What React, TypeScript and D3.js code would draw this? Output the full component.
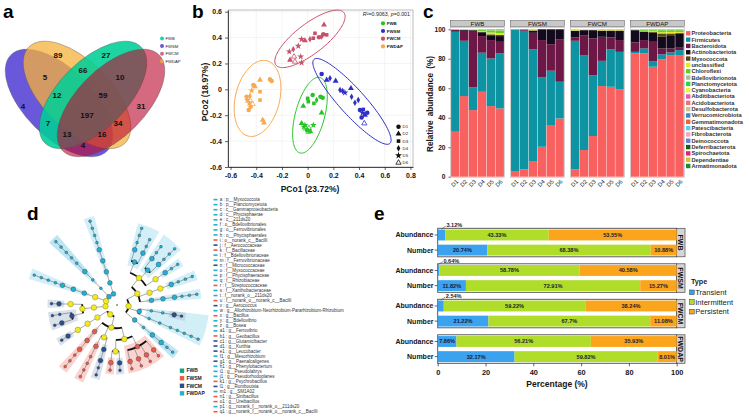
import { useEffect, useRef } from 'react';
import * as d3 from 'd3';

const W = 749;
const H = 418;
const FONT = '"Liberation Sans", Arial, Helvetica, sans-serif';

// ---------- a: shared OTUs ----------
const vennSets = ['FWB', 'FWSM', 'FWCM', 'FWDAP'];
const vennColors = ['#00ce96', '#503bd3', '#ba0d32', '#f7b23b'];
const vennAlpha = [0.88, 0.85, 0.62, 0.75];
// ellipse geometry, listed in drawing order
const vennDrawOrder = ['FWSM', 'FWDAP', 'FWB', 'FWCM'];
const vennCx = [33.75, 45, 55, 66.25];
const vennCy = [40.6, 35.6, 35.6, 40.6];
const vennTilt = [45, 45, -45, -45];
const vennCounts = [89, 27, 66, 5, 10, 12, 59, 4, 31, 197, 7, 34, 13, 16, 4];
const vennLabelX = [33.1, 63.1, 48.75, 25, 71.9, 32.5, 61.25, 11.25, 85, 51.25, 26.9, 70.6, 38.75, 60.6, 48.75];
const vennLabelY = [10.6, 10.6, 20, 24.4, 24.4, 35.6, 35.6, 42.5, 42.5, 48.1, 53.1, 53.1, 60, 60, 66.9];

// ---------- b: PCoA ----------
const pcoaGroups = ['FWB', 'FWSM', 'FWCM', 'FWDAP'];
const pcoaColors = ['#26c426', '#2f2fc8', '#c8506a', '#f7a94f'];
const pcoaDays = ['D1', 'D2', 'D3', 'D4', 'D5', 'D6'];
// [PCo1, PCo2, day index]
const fwbScores = [
  [0.039, -0.044, 0], [0.117, -0.065, 0], [0.1, -0.058, 0], [0.07, -0.083, 3], [0.0, -0.07, 2], [0.005, -0.095, 2],
  [0.049, -0.108, 2], [-0.034, -0.129, 1], [0.109, -0.181, 1], [-0.047, -0.263, 1], [-0.021, -0.276, 4], [0.044, -0.276, 4],
  [-0.03, -0.29, 4], [-0.013, -0.302, 5], [0.01, -0.3, 5], [-0.005, -0.315, 0], [0.005, -0.328, 5], [0.02, -0.325, 1],
];
const fwsmScores = [
  [0.109, 0.119, 0], [0.148, 0.072, 1], [0.174, 0.085, 3], [0.218, 0.065, 1], [0.252, -0.005, 3], [0.272, -0.013, 3],
  [0.29, -0.026, 4], [0.337, 0.008, 1], [0.342, -0.057, 3], [0.394, -0.083, 3], [0.368, -0.103, 3], [0.407, -0.16, 0],
  [0.433, -0.155, 2], [0.428, -0.181, 4], [0.446, -0.199, 1], [0.464, -0.181, 0], [0.42, -0.217, 0], [0.441, -0.263, 5],
];
const fwcmScores = [
  [0.127, 0.498, 1], [0.148, 0.421, 2], [0.057, 0.433, 2], [0.044, 0.395, 2], [0.122, 0.426, 0], [0.109, 0.408, 3],
  [0.088, 0.402, 0], [0.018, 0.387, 3], [-0.021, 0.377, 1], [-0.047, 0.387, 4], [-0.073, 0.335, 4], [-0.112, 0.31, 3],
  [-0.143, 0.292, 4], [-0.054, 0.253, 4], [-0.106, 0.253, 5], [-0.137, 0.227, 1], [-0.099, 0.214, 5], [-0.047, 0.206, 4],
];
const fwdapScores = [
  [-0.371, 0.072, 1], [-0.293, 0.077, 0], [-0.28, 0.065, 0], [-0.423, 0.034, 0], [-0.41, 0.021, 1], [-0.371, -0.018, 2],
  [-0.436, -0.01, 4], [-0.475, -0.057, 0], [-0.449, -0.052, 3], [-0.47, -0.083, 4], [-0.449, -0.083, 5], [-0.454, -0.108, 4],
  [-0.428, -0.114, 5], [-0.444, -0.134, 0], [-0.459, -0.16, 0], [-0.371, -0.083, 2], [-0.35, -0.237, 1], [-0.34, -0.258, 1],
];
// confidence ellipses: [centre x, centre y, semi-major, semi-minor, angle in degrees]
const pcoaEllipses = [
  [0.018, -0.2, 0.302, 0.114, 75],
  [0.345, -0.093, 0.439, 0.1, -47.7],
  [0.018, 0.39, 0.333, 0.115, 37.4],
  [-0.39, -0.07, 0.3, 0.172, 76],
];

// ---------- c: phylum composition ----------
const compFacets = ['FWB', 'FWSM', 'FWCM', 'FWDAP'];
const compDays = ['D1', 'D2', 'D3', 'D4', 'D5', 'D6'];
const phylumNames = [
  'Proteobacteria', 'Firmicutes', 'Bacteroidota', 'Actinobacteriota', 'Myxococcota', 'unclassified', 'Chloroflexi',
  'Bdellovibrionota', 'Planctomycetota', 'Cyanobacteria', 'Abditibacteriota', 'Acidobacteriota', 'Desulfobacterota',
  'Verrucomicrobiota', 'Gemmatimonadota', 'Patescibacteria', 'Fibrobacterota', 'Deinococcota', 'Deferribacterota',
  'Spirochaetota', 'Dependentiae', 'Armatimonadota',
];
const phylumColors = [
  '#f8615f', '#0e93a3', '#6d1747', '#130b1d', '#57460f', '#e8e81e', '#63d11c', '#a7bf9f', '#2bd646', '#eff23c',
  '#e05ab1', '#f47070', '#cbc48f', '#3a86c8', '#f26234', '#5fcbef', '#f3a8b4', '#6b7fd3', '#105d1c', '#ea1e6e',
  '#d6c41c', '#188b36',
];
const proteobacteria = [30.5, 54.7, 45.2, 57.6, 47.9, 46.3, 3.4, 5.0, 10.2, 20.3, 34.6, 39.5, 5.0, 18.1, 27.6, 61.5, 61.0, 59.4, 83.6, 83.6, 74.6, 79.5, 82.5, 82.5];
const firmicutes = [67.8, 37.5, 15.4, 26.5, 32.3, 37.3, 96.3, 94.0, 76.1, 47.0, 37.3, 24.9, 87.2, 64.4, 41.3, 17.1, 25.3, 25.3, 1.1, 3.4, 3.8, 3.5, 1.8, 3.4];
const bacteroidota = [1.2, 6.8, 37.7, 11.3, 12.5, 7.9, 0.1, 0.7, 11.3, 25.4, 18.0, 28.9, 2.3, 13.5, 24.9, 16.3, 8.2, 8.0, 6.4, 5.7, 13.1, 4.0, 2.7, 1.6];
const actinobacteriota = [0.2, 0.6, 1.0, 2.6, 3.3, 3.9, 0.1, 0.2, 1.6, 7.3, 10.1, 6.7, 4.5, 3.4, 5.6, 4.1, 4.5, 6.3, 8.3, 5.6, 6.1, 7.9, 9.0, 9.7];
const myxococcota = [0, 0, 0.2, 0.4, 0.6, 0.8, 0, 0, 0, 0, 0, 0, 0.1, 0.1, 0.1, 0.2, 0.2, 0.2, 0.1, 0.3, 0.8, 2.3, 1.2, 0.4];
const unclassified = [0.2, 0.2, 0.3, 0.5, 1.2, 1.2, 0.1, 0.1, 0.4, 0, 0, 0, 0.6, 0.3, 0.3, 0.4, 0.4, 0.4, 0.2, 0.4, 0.6, 0.8, 1.0, 0.6];
const chloroflexi = [0, 0.1, 0.1, 0.7, 1.5, 1.8, 0, 0, 0.2, 0, 0, 0, 0.2, 0.1, 0.1, 0.2, 0.2, 0.2, 0.2, 0.6, 0.6, 1.4, 1.2, 1.2];
const bdellovibrionota = [0, 0, 0, 0.2, 0.3, 0.3, 0, 0, 0.1, 0, 0, 0, 0.1, 0.1, 0.1, 0.1, 0.1, 0.1, 0, 0.2, 0.2, 0.3, 0.3, 0.3];
const planctomycetota = [0.1, 0.1, 0.1, 0.2, 0.4, 0.5, 0, 0, 0.1, 0, 0, 0, 0, 0, 0, 0.1, 0.1, 0.1, 0.1, 0.2, 0.2, 0.3, 0.3, 0.3];
const phylumValues: Record<string, number[]> = {
  Proteobacteria: proteobacteria,
  Firmicutes: firmicutes,
  Bacteroidota: bacteroidota,
  Actinobacteriota: actinobacteriota,
  Myxococcota: myxococcota,
  unclassified: unclassified,
  Chloroflexi: chloroflexi,
  Bdellovibrionota: bdellovibrionota,
  Planctomycetota: planctomycetota,
};

// ---------- d: LEfSe cladogram ----------
const cladeGroups = ['FWB', 'FWSM', 'FWCM', 'FWDAP'];
const cladeColors = ['#179f87', '#ee5a47', '#2d4e88', '#21b1d2'];
const cladeShades = ['#9fe0d2', '#f7a69c', '#b4c3d8', '#a6def0'];
// lineage and number of sub-genus levels hanging below it
const cladeLineages: [string, number][] = [
  ['p__Proteobacteria;c__Alphaproteobacteria;o__Rhizobiales;f__Rhizobiaceae;g__Allorhizobium-Neorhizobium-Pararhizobium-Rhizobium', 3],
  ['p__Proteobacteria;c__Alphaproteobacteria;o__Rhizobiales;f__Rhizobiaceae;g__Mesorhizobium', 2],
  ['p__Proteobacteria;c__Alphaproteobacteria;o__Rhizobiales;f__Xanthobacteraceae;g__Pseudolabrys', 2],
  ['p__Proteobacteria;c__Alphaproteobacteria;o__Rhizobiales;f__Xanthobacteraceae;g__Pseudorhodoplanes', 3],
  ['p__Proteobacteria;c__Alphaproteobacteria;o__Rhizobiales;f__Beijerinckiaceae;g__Bosea', 2],
  ['p__Proteobacteria;c__Alphaproteobacteria;o__Caulobacterales;f__Caulobacteraceae;g__Phenylobacterium', 3],
  ['p__Proteobacteria;c__Alphaproteobacteria;o__Ferrovibrionales;f__Ferrovibrionaceae;g__Ferrovibrio', 3],
  ['p__Proteobacteria;c__Gammaproteobacteria;o__Burkholderiales;f__Alcaligenaceae;g__Paenalcaligenes', 1],
  ['p__Proteobacteria;c__Gammaproteobacteria;o__Pseudomonadales;f__Pseudomonadaceae;g__Pseudomonas', 4],
  ['p__Proteobacteria;c__211ds20;o__211ds20;f__norank_o__211ds20;g__norank_f__norank_o__211ds20', 2],
  ['p__Firmicutes;c__Bacilli;o__Bacillales;f__Bacillaceae;g__Bacillus', 1],
  ['p__Firmicutes;c__Bacilli;o__Bacillales;f__Bacillaceae;g__Geobacillus', 1],
  ['p__Firmicutes;c__Bacilli;o__Bacillales;f__Bacillaceae;g__Psychrobacillus', 1],
  ['p__Firmicutes;c__Bacilli;o__Bacillales;f__Bacillaceae;g__Sinibacillus', 1],
  ['p__Firmicutes;c__Bacilli;o__Bacillales;f__Planococcaceae;g__Kurthia', 1],
  ['p__Firmicutes;c__Bacilli;o__Bacillales;f__Planococcaceae;g__Ureibacillus', 1],
  ['p__Firmicutes;c__Bacilli;o__Lactobacillales;f__Aerococcaceae;g__Aerococcus', 2],
  ['p__Firmicutes;c__Bacilli;o__Lactobacillales;f__Streptococcaceae;g__Lactococcus', 3],
  ['p__Firmicutes;c__Bacilli;o__norank_c__Bacilli;f__norank_o__norank_c__Bacilli;g__norank_f__norank_o__norank_c__Bacilli', 3],
  ['p__Firmicutes;c__Clostridia;o__Peptostreptococcales-Tissierellales;f__Peptostreptococcaceae;g__Romboutsia', 1],
  ['p__Actinobacteriota;c__Actinobacteria;o__Micrococcales;f__Micrococcaceae;g__Glutamicibacter', 1],
  ['p__Actinobacteriota;c__Actinobacteria;o__Micrococcales;f__Micrococcaceae;g__Arthrobacter', 1],
  ['p__Actinobacteriota;c__Actinobacteria;o__Micrococcales;f__Microbacteriaceae;g__Leucobacter', 1],
  ['p__Bdellovibrionota;c__Bdellovibrionia;o__Bdellovibrionales;f__Bdellovibrionaceae;g__Bdellovibrio', 4],
  ['p__Myxococcota;c__Myxococcia;o__Myxococcales;f__Myxococcaceae;g__Corallococcus', 4],
  ['p__Planctomycetota;c__Phycisphaerae;o__Phycisphaerales;f__Phycisphaeraceae;g__SM1A02', 4],
];
const markerIds = [
  'a', 'b', 'c', 'd', 'e', 'f', 'g', 'h', 'i', 'j', 'k', 'l', 'm', 'n', 'o', 'p', 'q', 'r', 's', 't', 'u', 'v', 'w', 'x', 'y', 'z',
  'a1', 'b1', 'c1', 'd1', 'e1', 'f1', 'g1', 'h1', 'i1', 'j1', 'k1', 'l1', 'm1', 'n1', 'o1', 'p1', 'q1',
];
const markerTaxa = [
  'p__Myxococcota', 'p__Planctomycetota', 'c__Gammaproteobacteria', 'c__Phycisphaerae', 'c__211ds20',
  'o__Bdellovibrionales', 'o__Ferrovibrionales', 'o__Phycisphaerales', 'o__norank_c__Bacilli', 'f__Aerococcaceae',
  'f__Bacillaceae', 'f__Bdellovibrionaceae', 'f__Ferrovibrionaceae', 'f__Micrococcaceae', 'f__Myxococcaceae',
  'f__Phycisphaeraceae', 'f__Rhizobiaceae', 'f__Streptococcaceae', 'f__Xanthobacteraceae', 'f__norank_o__211ds20',
  'f__norank_o__norank_c__Bacilli', 'g__Aerococcus', 'g__Allorhizobium-Neorhizobium-Pararhizobium-Rhizobium',
  'g__Bacillus', 'g__Bdellovibrio', 'g__Bosea', 'g__Ferrovibrio', 'g__Geobacillus', 'g__Glutamicibacter', 'g__Kurthia',
  'g__Leucobacter', 'g__Mesorhizobium', 'g__Paenalcaligenes', 'g__Phenylobacterium', 'g__Pseudolabrys',
  'g__Pseudorhodoplanes', 'g__Psychrobacillus', 'g__Romboutsia', 'g__SM1A02', 'g__Sinibacillus', 'g__Ureibacillus',
  'g__norank_f__norank_o__211ds20', 'g__norank_f__norank_o__norank_c__Bacilli',
];
const markerGroups = [
  'FWDAP', 'FWDAP', 'FWDAP', 'FWDAP', 'FWDAP', 'FWDAP', 'FWDAP', 'FWDAP', 'FWSM', 'FWCM',
  'FWSM', 'FWDAP', 'FWDAP', 'FWCM', 'FWDAP', 'FWDAP', 'FWDAP', 'FWSM', 'FWDAP', 'FWDAP',
  'FWSM', 'FWCM', 'FWDAP', 'FWSM', 'FWDAP', 'FWDAP', 'FWDAP', 'FWSM', 'FWCM', 'FWCM',
  'FWCM', 'FWDAP', 'FWCM', 'FWDAP', 'FWDAP', 'FWDAP', 'FWSM', 'FWCM', 'FWDAP', 'FWSM',
  'FWSM', 'FWDAP', 'FWSM',
];

// ---------- e: transient / intermittent / persistent taxa ----------
const persistFacets = ['FWB', 'FWSM', 'FWCM', 'FWDAP'];
const persistMetrics = ['Abundance', 'Number'];
const persistTypes = ['Transient', 'Intermittent', 'Persistent'];
const persistColors = ['#3aa2ee', '#b0dc2a', '#fba51c'];
// per facet: Abundance, Number
const transientPct = [3.12, 20.74, 0.64, 11.82, 2.54, 21.22, 7.86, 32.17];
const intermittentPct = [43.33, 68.38, 58.78, 72.91, 59.22, 67.7, 56.21, 59.82];
const persistentPct = [53.55, 10.88, 40.58, 15.27, 38.24, 11.08, 35.93, 8.01];

type Sel = d3.Selection<SVGGElement, unknown, null, undefined>;

function styleAxis(ax: Sel, size: number) {
  ax.attr('font-family', FONT).attr('font-size', size).attr('font-weight', 'bold');
  ax.selectAll('text').attr('fill', '#151515');
  ax.selectAll('line').attr('stroke', '#222').attr('stroke-width', 0.7);
  ax.select('.domain').attr('stroke', '#222').attr('stroke-width', 0.8);
}

function drawVenn(g: Sel) {
  const vx = d3.scaleLinear().domain([0, 100]).range([5, 165]);
  const vy = d3.scaleLinear().domain([0, 75]).range([38, 158]);
  const k = vx(1) - vx(0);
  vennDrawOrder.forEach((name, j) => {
    const i = vennSets.indexOf(name);
    g.append('ellipse')
      .attr('rx', 42.5 * k)
      .attr('ry', 21.25 * k)
      .attr('transform', `translate(${vx(vennCx[j])},${vy(vennCy[j])}) rotate(${vennTilt[j]})`)
      .attr('fill', vennColors[i])
      .attr('fill-opacity', vennAlpha[i])
      .attr('stroke', '#555')
      .attr('stroke-width', 0.4);
  });
  g.selectAll('text.cnt')
    .data(vennCounts)
    .join('text')
    .attr('x', (_, i) => vx(vennLabelX[i]))
    .attr('y', (_, i) => vy(vennLabelY[i]))
    .attr('dy', '0.35em')
    .attr('text-anchor', 'middle')
    .attr('font-size', 8)
    .attr('font-weight', 'bold')
    .attr('fill', '#111')
    .text(d => d);

  const lg = g.append('g').attr('transform', 'translate(162,38.5)');
  vennSets.forEach((s, i) => {
    lg.append('circle').attr('cx', 0).attr('cy', i * 7.6).attr('r', 2)
      .attr('fill', vennColors[i]).attr('fill-opacity', vennAlpha[i]);
    lg.append('text').attr('x', 3.5).attr('y', i * 7.6).attr('dy', '0.35em')
      .attr('font-size', 4.2).attr('fill', '#222').text(s);
  });
}

function drawPcoa(g: Sel) {
  const x = d3.scaleLinear().domain([-0.62, 0.82]).range([228, 413]);
  const y = d3.scaleLinear().domain([-0.6, 0.613]).range([167, 10]);
  const xt = d3.range(-6, 9, 2).map(v => v / 10);
  const yt = d3.range(-6, 7, 2).map(v => v / 10);
  const fmt = (v: d3.NumberValue) => String(Math.round(+v * 10) / 10);

  g.append('g').selectAll('line').data(xt).join('line')
    .attr('x1', d => x(d)).attr('x2', d => x(d)).attr('y1', 10).attr('y2', 167)
    .attr('stroke', '#ececec').attr('stroke-width', 0.6);
  g.append('g').selectAll('line').data(yt).join('line')
    .attr('y1', d => y(d)).attr('y2', d => y(d)).attr('x1', 228).attr('x2', 413)
    .attr('stroke', '#ececec').attr('stroke-width', 0.6);
  g.append('rect').attr('x', 228).attr('y', 10).attr('width', 185).attr('height', 157)
    .attr('fill', 'none').attr('stroke', '#a0a0a0').attr('stroke-width', 0.7);

  const ax = g.append('g').attr('transform', 'translate(0,167)')
    .call(d3.axisBottom(x).tickValues(xt).tickFormat(fmt).tickSize(3).tickSizeOuter(0));
  styleAxis(ax, 7);
  const ay = g.append('g').attr('transform', 'translate(228,0)')
    .call(d3.axisLeft(y).tickValues(yt).tickFormat(fmt).tickSize(3).tickSizeOuter(0));
  styleAxis(ay, 7);

  g.append('text').attr('x', 310).attr('y', 192).attr('text-anchor', 'middle')
    .attr('font-size', 8.5).attr('font-weight', 'bold').attr('fill', '#151515').text('PCo1 (23.72%)');
  g.append('text').attr('transform', 'translate(208,92) rotate(-90)').attr('text-anchor', 'middle')
    .attr('font-size', 8.5).attr('font-weight', 'bold').attr('fill', '#151515').text('PCo2 (18.97%)');

  const line = d3.line<number[]>().x(d => x(d[0])).y(d => y(d[1])).curve(d3.curveLinearClosed);
  const t = d3.range(0, 2 * Math.PI, Math.PI / 60);
  pcoaEllipses.forEach((e, gi) => {
    const [cx, cy, a, b, deg] = e;
    const phi = (deg * Math.PI) / 180;
    const pts = t.map(s => [
      cx + a * Math.cos(s) * Math.cos(phi) - b * Math.sin(s) * Math.sin(phi),
      cy + a * Math.cos(s) * Math.sin(phi) + b * Math.sin(s) * Math.cos(phi),
    ]);
    g.append('path').attr('d', line(pts)).attr('fill', 'none')
      .attr('stroke', pcoaColors[gi]).attr('stroke-width', 1);
  });

  const shapes = [d3.symbolCircle, d3.symbolTriangle, d3.symbolSquare, d3.symbolDiamond, d3.symbolStar, d3.symbolTriangle];
  const sizes = [16, 15, 13, 12, 15, 12];
  const sym = (di: number) => d3.symbol().type(shapes[di]).size(sizes[di])();
  [fwbScores, fwsmScores, fwcmScores, fwdapScores].forEach((pts, gi) => {
    g.append('g').selectAll('path').data(pts).join('path')
      .attr('transform', d => `translate(${x(d[0])},${y(d[1])})`)
      .attr('d', d => sym(d[2]))
      .attr('fill', d => (d[2] === 5 ? 'none' : pcoaColors[gi]))
      .attr('stroke', d => (d[2] === 5 ? pcoaColors[gi] : 'none'))
      .attr('stroke-width', 0.8);
  });

  const st = g.append('text').attr('x', 410).attr('y', 16).attr('text-anchor', 'end')
    .attr('font-size', 5.3).attr('fill', '#222');
  st.append('tspan').attr('font-style', 'italic').text('R');
  st.append('tspan').text('\u00b2=0.9063, ');
  st.append('tspan').attr('font-style', 'italic').text('p');
  st.append('tspan').text('=0.001');

  const lg = g.append('g').attr('transform', 'translate(383,23.3)');
  pcoaGroups.forEach((s, i) => {
    lg.append('circle').attr('cx', 0).attr('cy', i * 7.7).attr('r', 2.1).attr('fill', pcoaColors[i]);
    lg.append('text').attr('x', 3.8).attr('y', i * 7.7).attr('dy', '0.35em')
      .attr('font-size', 4.4).attr('font-weight', 'bold').attr('fill', '#222').text(s);
  });
  const sg = g.append('g').attr('transform', 'translate(398.5,126.7)');
  pcoaDays.forEach((d, i) => {
    sg.append('path').attr('transform', `translate(0,${i * 7.2})`).attr('d', sym(i))
      .attr('fill', i === 5 ? 'none' : '#111').attr('stroke', i === 5 ? '#111' : 'none').attr('stroke-width', 0.8);
    sg.append('text').attr('x', 4).attr('y', i * 7.2).attr('dy', '0.35em')
      .attr('font-size', 4.4).attr('fill', '#222').text(d);
  });
}

function drawComposition(g: Sel) {
  const rows = compFacets.flatMap((f, fi) =>
    compDays.map((d, di) => {
      const row: Record<string, any> = { facet: f, day: d };
      phylumNames.forEach(p => {
        row[p] = phylumValues[p] ? phylumValues[p][fi * 6 + di] : 0;
      });
      return row;
    }),
  );
  const series = d3.stack<Record<string, any>>().keys(phylumNames)(rows);
  const fx = d3.scaleBand().domain(compFacets).range([450.5, 684.3]).paddingInner(0.099);
  const bx = d3.scaleBand().domain(compDays).range([0.6, fx.bandwidth() - 0.6]).paddingInner(0.05);
  const y = d3.scaleLinear().domain([0, 100]).range([176.7, 29.3]);
  const color = d3.scaleOrdinal<string>().domain(phylumNames).range(phylumColors);

  compFacets.forEach(f => {
    g.append('rect').attr('x', fx(f)!).attr('y', 27.6).attr('width', fx.bandwidth()).attr('height', 149.6)
      .attr('fill', '#fff').attr('stroke', '#b5b5b5').attr('stroke-width', 0.6);
    g.append('rect').attr('x', fx(f)!).attr('y', 20.6).attr('width', fx.bandwidth()).attr('height', 5.8)
      .attr('fill', '#c8c8c8').attr('stroke', '#555').attr('stroke-width', 0.5);
    g.append('text').attr('x', fx(f)! + fx.bandwidth() / 2).attr('y', 23.5).attr('dy', '0.35em')
      .attr('text-anchor', 'middle').attr('font-size', 6.2).attr('fill', '#111').text(f);
  });

  g.append('g').selectAll('g').data(series).join('g')
    .attr('fill', d => color(d.key))
    .selectAll('rect').data(d => d).join('rect')
    .attr('x', d => fx(d.data.facet)! + bx(d.data.day)!)
    .attr('y', d => y(d[1]))
    .attr('width', bx.bandwidth())
    .attr('height', d => Math.max(0, y(d[0]) - y(d[1])));

  compFacets.forEach(f => {
    g.append('g').selectAll('text').data(compDays).join('text')
      .attr('transform', d => `translate(${fx(f)! + bx(d)! + bx.bandwidth() / 2 + 2},${180.5}) rotate(-45)`)
      .attr('text-anchor', 'end').attr('dy', '0.35em')
      .attr('font-size', 5.8).attr('fill', '#222').text(d => d);
  });

  const ay = g.append('g').attr('transform', 'translate(450.5,0)')
    .call(d3.axisLeft(y).tickValues([0, 20, 40, 60, 80, 100]).tickSize(2).tickSizeOuter(0));
  styleAxis(ay, 6.6);
  ay.select('.domain').remove();
  g.append('text').attr('transform', 'translate(433,104) rotate(-90)').attr('text-anchor', 'middle')
    .attr('font-size', 8.2).attr('font-weight', 'bold').attr('fill', '#151515')
    .attr('word-spacing', 2).text('Relative abundance (%)');

  const lg = g.append('g').attr('transform', 'translate(686,33.3)');
  phylumNames.forEach((p, i) => {
    lg.append('rect').attr('x', 0).attr('y', i * 6.32 - 2.2).attr('width', 4.4).attr('height', 4.4)
      .attr('fill', color(p));
    lg.append('text').attr('x', 5.4).attr('y', i * 6.32).attr('dy', '0.35em')
      .attr('font-size', 5.7).attr('font-weight', 'bold').attr('fill', '#333').text(p);
  });
}

type TaxNode = { name: string; children: TaxNode[] };

function buildTaxTree(): TaxNode {
  const root: TaxNode = { name: 'root', children: [] };
  cladeLineages.forEach(([path, tail]) => {
    let cur = root;
    path.split(';').forEach(name => {
      let next = cur.children.find(c => c.name === name);
      if (!next) {
        next = { name, children: [] };
        cur.children.push(next);
      }
      cur = next;
    });
    for (let k = 1; k <= tail; k++) {
      const next: TaxNode = { name: `${cur.name}|${k}`, children: [] };
      cur.children.push(next);
      cur = next;
    }
  });
  return root;
}

function drawCladogram(g: Sel) {
  const cx = 117;
  const cy = 305;
  const rot = 0.22;
  const root = d3.hierarchy(buildTaxTree(), d => (d.children.length ? d.children : null));
  d3.tree<TaxNode>().size([2 * Math.PI * 0.93, 1])
    .separation((a, b) => (a.parent === b.parent ? 1 : 2) / a.depth)(root);
  const r = d3.scaleLinear().domain([0, 5, 9]).range([0, 58, 88]);
  const ang = (n: d3.HierarchyNode<TaxNode>) => (n as any).x + rot;
  const pos = (a: number, rad: number) => [cx + rad * Math.sin(a), cy - rad * Math.cos(a)];

  const markerOf = (n: d3.HierarchyNode<TaxNode>) => markerTaxa.indexOf(n.data.name);
  const groupOf = (n: d3.HierarchyNode<TaxNode>) => {
    for (const a of n.ancestors()) {
      const m = markerOf(a);
      if (m >= 0) return cladeGroups.indexOf(markerGroups[m]);
    }
    return -1;
  };
  const nodes = root.descendants();

  // shaded clades
  const arcGen = d3.arc<any>();
  nodes.filter(n => markerOf(n) >= 0 && !(n.parent && markerOf(n.parent) >= 0 && groupOf(n.parent) === groupOf(n)))
    .forEach(n => {
      const ds = n.descendants();
      const a0 = d3.min(ds, ang)! - 0.06;
      const a1 = d3.max(ds, ang)! + 0.06;
      const rOut = r(d3.max(ds, d => d.depth)!) + 4;
      g.append('path')
        .attr('transform', `translate(${cx},${cy})`)
        .attr('d', arcGen({ innerRadius: Math.max(r(n.depth) - 5, 30), outerRadius: rOut, startAngle: a0, endAngle: a1 }))
        .attr('fill', cladeShades[groupOf(n)])
        .attr('fill-opacity', 0.5);
    });

  // radial branches
  nodes.filter(n => n.depth > 1).forEach(n => {
    const [x0, y0] = pos(ang(n), r(n.parent!.depth));
    const [x1, y1] = pos(ang(n), r(n.depth));
    g.append('line').attr('x1', x0).attr('y1', y0).attr('x2', x1).attr('y2', y1)
      .attr('stroke', '#6f6f6f').attr('stroke-width', 0.6);
  });
  // sibling arcs
  nodes.filter(n => n.depth > 0 && n.children && n.children.length > 1).forEach(n => {
    const a0 = d3.min(n.children!, ang)!;
    const a1 = d3.max(n.children!, ang)!;
    const rad = r(n.depth);
    const p = d3.path();
    p.moveTo(cx + rad * Math.sin(a0), cy - rad * Math.cos(a0));
    p.arc(cx, cy, rad, a0 - Math.PI / 2, a1 - Math.PI / 2);
    g.append('path').attr('d', p.toString()).attr('fill', 'none')
      .attr('stroke', '#111').attr('stroke-width', 1.8);
  });

  g.append('circle').attr('cx', cx).attr('cy', cy).attr('r', 0.8).attr('fill', '#333');
  nodes.filter(n => n.depth > 0).forEach(n => {
    const gi = groupOf(n);
    const own = markerOf(n) >= 0;
    const [px, py] = pos(ang(n), r(n.depth));
    const rad = own ? 2.4 : gi >= 0 ? 1.4 : 2.8;
    g.append('circle').attr('cx', px).attr('cy', py).attr('r', rad)
      .attr('fill', gi >= 0 ? cladeColors[gi] : '#f2ea1d')
      .attr('stroke', gi >= 0 ? '#2b3a4a' : '#6b6b40')
      .attr('stroke-width', 0.4);
  });

  const lg = g.append('g').attr('transform', 'translate(182,370.7)');
  cladeGroups.forEach((s, i) => {
    lg.append('rect').attr('x', -2.2).attr('y', i * 7.55 - 2.2).attr('width', 4.4).attr('height', 4.4)
      .attr('fill', cladeColors[i]);
    lg.append('text').attr('x', 4.4).attr('y', i * 7.55).attr('dy', '0.35em')
      .attr('font-size', 5).attr('font-weight', 'bold').attr('fill', '#222').text(s);
  });

  const ml = g.append('g').attr('transform', 'translate(213.5,199.6)');
  markerIds.forEach((id, i) => {
    const gi = cladeGroups.indexOf(markerGroups[i]);
    ml.append('rect').attr('x', 0).attr('y', i * 5.05 - 0.8).attr('width', 4).attr('height', 1.6)
      .attr('fill', cladeColors[gi]);
    ml.append('text').attr('x', 6.3).attr('y', i * 5.05).attr('dy', '0.35em')
      .attr('font-size', 4.5).attr('fill', '#333').text(`${id} : ${markerTaxa[i]}`);
  });
}

function drawPersistence(g: Sel) {
  const rows = persistFacets.flatMap((f, fi) =>
    persistMetrics.map((m, mi) => ({
      facet: f,
      metric: m,
      Transient: transientPct[fi * 2 + mi],
      Intermittent: intermittentPct[fi * 2 + mi],
      Persistent: persistentPct[fi * 2 + mi],
    })),
  );
  const series = d3.stack<any>().keys(persistTypes)(rows);
  const x = d3.scaleLinear().domain([0, 100]).range([437.7, 676.7]);
  const fy = d3.scaleBand().domain(persistFacets).range([228.3, 363.3]).paddingInner(0.197);
  const by = d3.scaleBand().domain(persistMetrics).range([0.5, fy.bandwidth() - 0.5]).paddingInner(0.28).paddingOuter(0.05);
  const color = d3.scaleOrdinal<string>().domain(persistTypes).range(persistColors);

  persistFacets.forEach(f => {
    const top = fy(f)!;
    g.append('rect').attr('x', 437.7).attr('y', top).attr('width', 239).attr('height', fy.bandwidth())
      .attr('fill', '#fff').attr('stroke', '#4a4a4a').attr('stroke-width', 0.9);
    g.append('rect').attr('x', 676.7).attr('y', top).attr('width', 8.3).attr('height', fy.bandwidth())
      .attr('fill', '#d6d6d6').attr('stroke', '#4a4a4a').attr('stroke-width', 0.7);
    g.append('text').attr('transform', `translate(680.85,${top + fy.bandwidth() / 2}) rotate(90)`)
      .attr('text-anchor', 'middle').attr('dy', '0.35em')
      .attr('font-size', 7).attr('font-weight', 'bold').attr('fill', '#111').text(f);
    persistMetrics.forEach(m => {
      const yc = top + by(m)! + by.bandwidth() / 2;
      g.append('line').attr('x1', 434.7).attr('x2', 437.7).attr('y1', yc).attr('y2', yc)
        .attr('stroke', '#222').attr('stroke-width', 0.7);
      g.append('text').attr('x', 433.5).attr('y', yc).attr('dy', '0.35em').attr('text-anchor', 'end')
        .attr('font-size', 7).attr('font-weight', 'bold').attr('fill', '#151515').text(m);
    });
  });

  const segs = g.append('g');
  series.forEach(s => {
    s.forEach(d => {
      const top = fy(d.data.facet)!;
      const y0 = top + by(d.data.metric)!;
      const v = d[1] - d[0];
      segs.append('rect').attr('x', x(d[0])).attr('y', y0).attr('width', x(d[1]) - x(d[0]))
        .attr('height', by.bandwidth()).attr('fill', color(s.key));
      const mid = x((d[0] + d[1]) / 2);
      if (v >= 5) {
        segs.append('text').attr('x', mid).attr('y', y0 + by.bandwidth() / 2).attr('dy', '0.35em')
          .attr('text-anchor', 'middle').attr('font-size', 5.6).attr('font-weight', 'bold')
          .attr('fill', '#1b1b2e').text(`${v.toFixed(2).replace(/0$/, '')}%`);
      } else {
        segs.append('line').attr('x1', mid).attr('y1', top + 0.6).attr('x2', mid + 4.5).attr('y2', top - 2.2)
          .attr('stroke', '#333').attr('stroke-width', 0.5);
        segs.append('text').attr('x', mid + 5).attr('y', top - 1.2)
          .attr('font-size', 5.6).attr('font-weight', 'bold').attr('fill', '#1b1b2e')
          .text(`${v.toFixed(2)}%`);
      }
    });
  });

  const ax = g.append('g').attr('transform', 'translate(0,363.3)')
    .call(d3.axisBottom(x).tickValues([0, 20, 40, 60, 80, 100]).tickSize(3).tickSizeOuter(0));
  styleAxis(ax, 7.4);
  ax.select('.domain').remove();
  g.append('text').attr('x', 557).attr('y', 386.5).attr('text-anchor', 'middle')
    .attr('font-size', 8.5).attr('font-weight', 'bold').attr('fill', '#151515').text('Percentage (%)');

  g.append('text').attr('x', 691).attr('y', 283.5).attr('font-size', 7.2).attr('font-weight', 'bold')
    .attr('fill', '#222').text('Type');
  persistTypes.forEach((t, i) => {
    g.append('rect').attr('x', 689.6).attr('y', 290 + i * 9.7).attr('width', 4.6).attr('height', 4.6)
      .attr('fill', persistColors[i]).attr('stroke', '#333').attr('stroke-width', 0.5);
    g.append('text').attr('x', 695.2).attr('y', 292.3 + i * 9.7).attr('dy', '0.35em')
      .attr('font-size', 7.6).attr('fill', '#222').text(t);
  });
}

export default function App() {
  const ref = useRef<SVGSVGElement>(null);

  useEffect(() => {
    const svg = d3.select(ref.current);
    svg.selectAll('*').remove();
    svg.append('rect').attr('width', W).attr('height', H).attr('fill', '#fff');

    drawVenn(svg.append('g') as unknown as Sel);
    drawPcoa(svg.append('g') as unknown as Sel);
    drawComposition(svg.append('g') as unknown as Sel);
    drawCladogram(svg.append('g') as unknown as Sel);
    drawPersistence(svg.append('g') as unknown as Sel);

    // panel letters
    const letters: [string, number, number][] = [['a', 3, 18], ['b', 192, 18], ['c', 423, 18], ['d', 27, 220], ['e', 374, 220]];
    svg.selectAll('text.panel').data(letters).join('text')
      .attr('class', 'panel')
      .attr('x', d => d[1]).attr('y', d => d[2])
      .attr('font-size', 19).attr('font-weight', 'bold').attr('fill', '#000')
      .text(d => d[0]);

    return () => {
      svg.selectAll('*').remove();
    };
  }, []);

  return (
    <svg
      ref={ref}
      width={W}
      height={H}
      fontFamily={FONT}
      style={{ position: 'absolute', left: 0, top: 0 }}
      role="img"
      aria-label="Microbial community composition, PCoA and persistence"
    />
  );
}
